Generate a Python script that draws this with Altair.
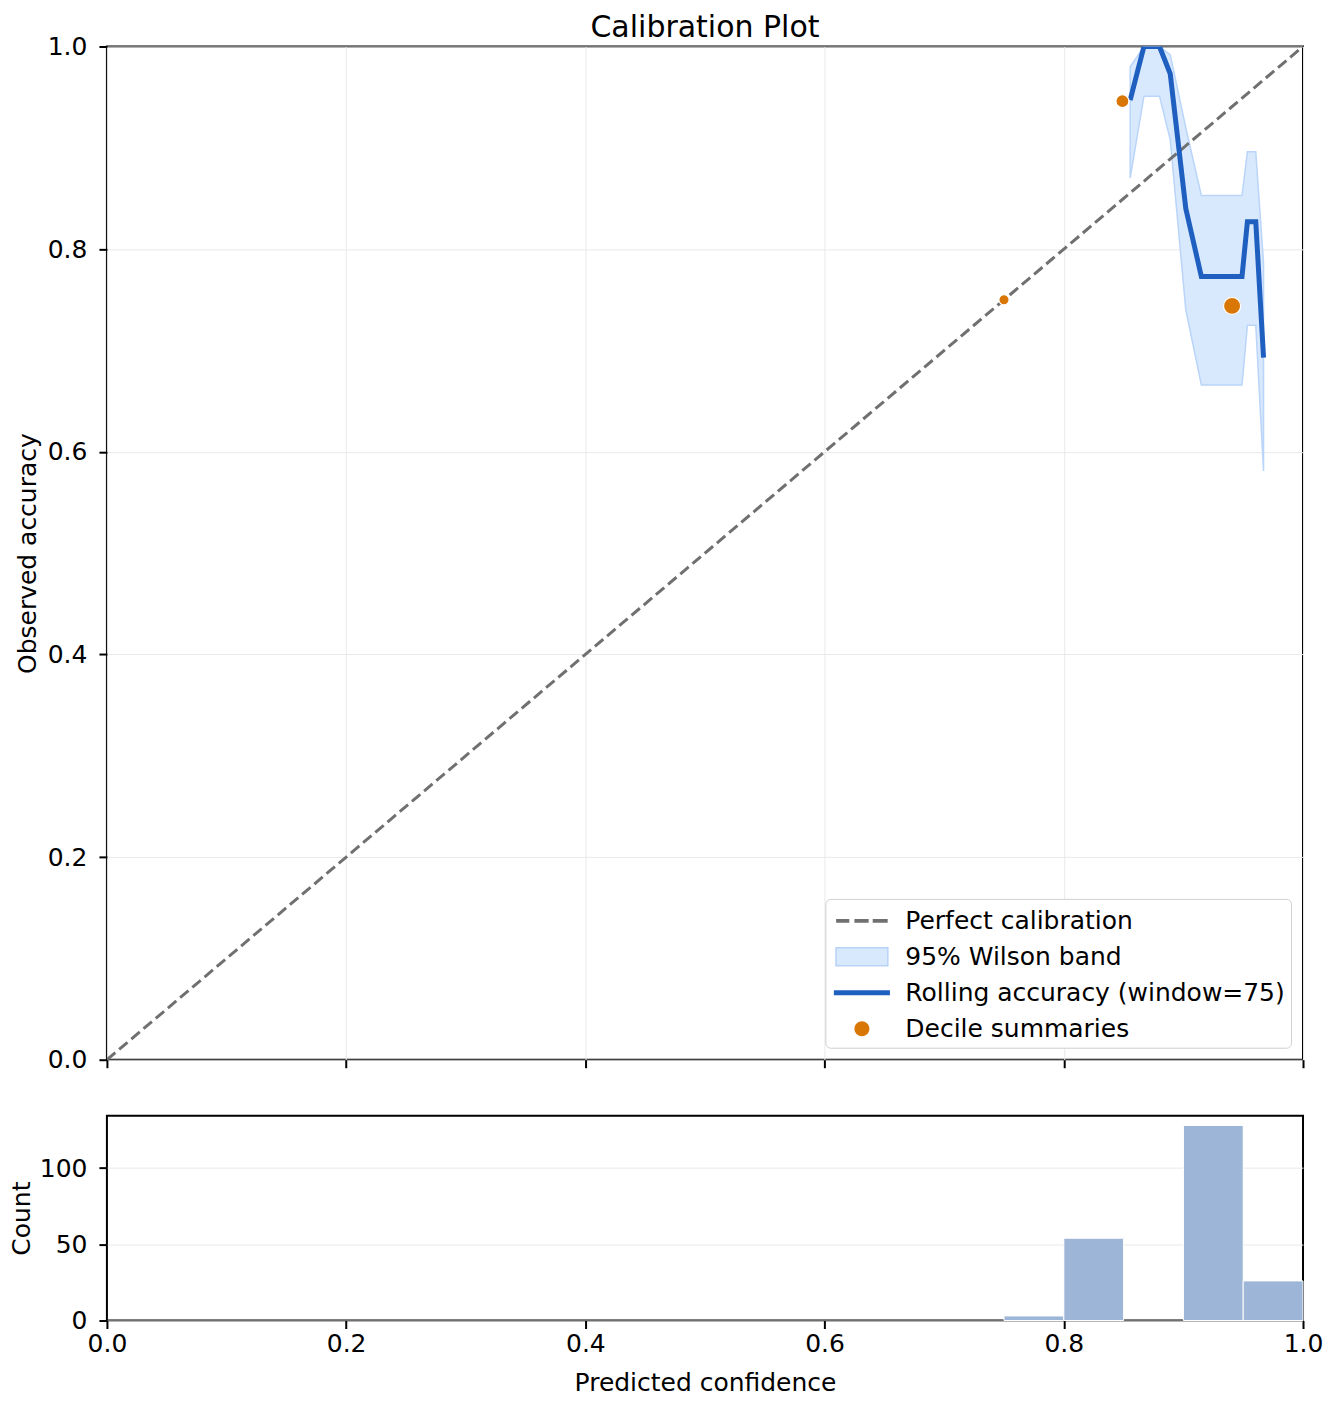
import altair as alt
import pandas as pd
import numpy as np

# ---------------- data ----------------
diag_x = [0.0, 1.0]
diag_y = [0.0, 1.0]

roll_x = [0.8555, 0.867, 0.880, 0.889, 0.902, 0.915, 0.949, 0.9535, 0.9605, 0.967]
roll_acc = [0.947, 1.0, 1.0, 0.973, 0.840, 0.773, 0.773, 0.827, 0.827, 0.693]
band_lo = [0.870, 0.951, 0.951, 0.908, 0.740, 0.666, 0.666, 0.725, 0.725, 0.581]
band_hi = [0.980, 1.0, 1.0, 0.992, 0.920, 0.853, 0.853, 0.896, 0.896, 0.786]

decile_conf = [0.750, 0.849, 0.9407]
decile_acc = [0.750, 0.946, 0.744]
decile_n = [4, 54, 154]

hist_start = [0.75, 0.80, 0.85, 0.90, 0.95]
hist_end = [0.80, 0.85, 0.90, 0.95, 1.00]
hist_count = [3, 54, 0, 128, 26]

tick_vals = [0.0, 0.2, 0.4, 0.6, 0.8, 1.0]
count_ticks = [0, 50, 100]

legend_labels = ["Perfect calibration", "95% Wilson band",
                 "Rolling accuracy (window=75)", "Decile summaries"]

# ---------------- styling ----------------
FONT = "DejaVu Sans"
FS = 25
W, H_TOP, H_BOT = 1197, 1014, 205
GRID = "#e9e9e9"


def circle_path(cx, r, n=28):
    pts = []
    for k in range(n):
        a = 2 * np.pi * k / n
        pts.append(f"{cx + r*np.cos(a):.3f},{r*np.sin(a):.3f}")
    return "M" + "L".join(pts) + "Z"


legend_paths = [
    "M-0.75,-0.12H0.13V0.12H-0.75Z M0.47,-0.12H1.42V0.12H0.47Z M1.69,-0.12H2.69V0.12H1.69Z",
    "M-0.76,-0.6H2.7V0.6H-0.76Z",
    "M-0.9,-0.17H2.84V0.17H-0.9Z",
    circle_path(0.97, 0.5),
]
legend_fills = ["#707070", "#d8e8fd", "#1f5fc0", "#d97706"]
legend_strokes = ["transparent", "#b7d3f8", "transparent", "transparent"]

roll_df = pd.DataFrame({"conf": roll_x, "acc": roll_acc, "lo": band_lo, "hi": band_hi})
diag_df = pd.DataFrame({"conf": diag_x, "acc": diag_y})
dec_df = pd.DataFrame({"conf": decile_conf, "acc": decile_acc, "n": decile_n})
hist_df = pd.DataFrame({"start": hist_start, "end": hist_end, "count": hist_count})

xscale = alt.Scale(domain=[0, 1], nice=False, zero=False, padding=0)
yscale = alt.Scale(domain=[0, 1], nice=False)

x_top_axis = alt.Axis(values=tick_vals, labels=False, title=None, grid=True, tickSize=8)
y_top_axis = alt.Axis(values=tick_vals, format=".1f", title="Observed accuracy",
                      grid=True, tickSize=8, labelPadding=12, titlePadding=7,
                      labelFlush=False)

X = alt.X("conf:Q", scale=xscale, axis=x_top_axis)

band = alt.Chart(roll_df).mark_area(
    fill="#d8e8fd", stroke="#bad5f9", strokeWidth=1.5, clip=True
).encode(x=X, y=alt.Y("lo:Q", scale=yscale, axis=y_top_axis), y2="hi:Q")

diag = alt.Chart(diag_df).mark_line(
    color="#707070", strokeWidth=3, strokeDash=[11, 5], clip=True
).encode(x=X, y=alt.Y("acc:Q", scale=yscale, axis=y_top_axis))

line = alt.Chart(roll_df).mark_line(
    color="#1f5fc0", strokeWidth=5, clip=True
).encode(x=X, y=alt.Y("acc:Q", scale=yscale, axis=y_top_axis))

points = alt.Chart(dec_df).mark_circle(
    color="#d97706", opacity=1, stroke="white", strokeWidth=1.2, clip=True
).encode(
    x=X, y=alt.Y("acc:Q", scale=yscale, axis=y_top_axis),
    size=alt.Size("n:Q", scale=alt.Scale(domain=[0, 160], range=[100, 300]), legend=None),
)

leg_def = alt.Legend(
    title=None, orient="bottom-right", offset=12, labelFont=FONT, labelFontSize=FS,
    labelColor="black", symbolSize=900, symbolStrokeWidth=1.5, rowPadding=7,
    padding=6, labelOffset=42, fillColor="white", strokeColor="#d0d0d0",
    cornerRadius=5, labelLimit=600,
)

leg = alt.Chart(alt.Data(values=[{"label": l} for l in legend_labels])).transform_filter(
    "false"
).mark_point(filled=True, opacity=1).encode(
    shape=alt.Shape("label:N", scale=alt.Scale(domain=legend_labels, range=legend_paths), legend=leg_def),
    fill=alt.Fill("label:N", scale=alt.Scale(domain=legend_labels, range=legend_fills), legend=leg_def),
    stroke=alt.Stroke("label:N", scale=alt.Scale(domain=legend_labels, range=legend_strokes), legend=leg_def),
)

top = alt.layer(band, diag, line, points, leg).properties(
    width=W, height=H_TOP,
    title=alt.TitleParams("Calibration Plot", font=FONT, fontSize=30, fontWeight="normal",
                          color="black", anchor="middle", frame="group", offset=-8),
)

hist = alt.Chart(hist_df).transform_filter("datum.count > 0").mark_bar(
    color="#9db5d6", stroke="white", strokeWidth=1, orient="vertical"
).encode(
    x=alt.X("start:Q", scale=xscale,
            axis=alt.Axis(values=tick_vals, format=".1f", title="Predicted confidence",
                          grid=False, tickSize=8, labelPadding=3, titlePadding=14,
                          labelFlush=False)),
    x2="end:Q",
    y=alt.Y("count:Q", scale=alt.Scale(domain=[0, 134.4], nice=False),
            axis=alt.Axis(values=count_ticks, title="Count", grid=True, tickSize=8,
                          labelPadding=12, titlePadding=5, labelFlush=False)),
).properties(width=W, height=H_BOT)

chart = alt.vconcat(top, hist, spacing=41).properties(
    padding={"left": 0, "top": 3, "right": 0, "bottom": 0}
).resolve_scale(
    shape="independent", fill="independent", stroke="independent", size="independent"
).resolve_legend(
    shape="independent", fill="independent", stroke="independent", size="independent"
).configure_view(
    stroke="black", strokeWidth=2
).configure_axis(
    labelFont=FONT, labelFontSize=FS, labelColor="black",
    titleFont=FONT, titleFontSize=FS, titleFontWeight="normal", titleColor="black",
    tickColor="black", tickWidth=2, domain=False, gridColor=GRID, gridWidth=1,
)

chart.save("out.html", embed_options={"renderer": "svg", "actions": False})
